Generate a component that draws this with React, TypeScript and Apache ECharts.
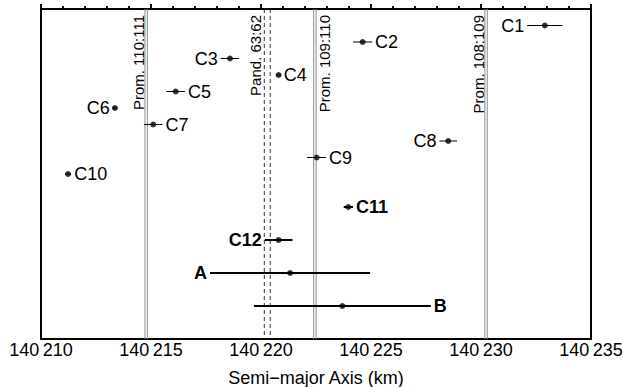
import React, { useEffect, useRef } from "react";
import * as echarts from "echarts";

const names = ["C1", "C2", "C3", "C4", "C5", "C6", "C7", "C8", "C9", "C10", "C11", "C12", "A", "B"];
const rows = [1, 2, 3, 4, 5, 6, 7, 8, 9, 10, 12, 14, 16, 18];
const semiMajor = [
  140232.9, 140224.62, 140218.59, 140220.8, 140216.12, 140213.36, 140215.1,
  140228.51, 140222.53, 140211.23, 140223.97, 140220.8, 140221.32, 140223.7,
];
const errors = [0.8, 0.43, 0.42, 0.1, 0.42, 0.1, 0.42, 0.4, 0.43, 0.14, 0.21, 0.63, 3.64, 4.02];
const labelSides = ["left", "right", "left", "right", "right", "left", "right", "left", "right", "right", "right", "left", "left", "right"];
const boldNames = ["C11", "C12", "A", "B"];
const thickBars = ["C11", "C12", "A", "B"];

const promNames = ["Prom. 110:111", "Prom. 109:110", "Prom. 108:109"];
const promValues = [140214.78, 140222.45, 140230.23];
const promLabelSides = ["left", "right", "left"];
const pandName = "Pand. 63:62";
const pandValues = [140220.15, 140220.42];

const xMin = 140210;
const xMax = 140235;
const xInterval = 5;
const yMin = 0;
const yMax = 20;

const FONT = "'Liberation Sans', Arial, Helvetica, sans-serif";

function fmtTick(v: number) {
  const s = String(Math.round(v));
  return s.slice(0, 3) + "\u2009" + s.slice(3);
}

export default function App() {
  const ref = useRef<HTMLDivElement>(null);
  useEffect(() => {
    if (!ref.current) return;
    const chart = echarts.init(ref.current, null, { renderer: "svg" });

    const errData = names.map((n, i) => [semiMajor[i] - errors[i], semiMajor[i] + errors[i], rows[i], i]);
    const pointData = names.map((n, i) => [semiMajor[i], rows[i]]);

    const option: any = {
      animation: false,
      backgroundColor: "#fff",
      grid: {
        left: 41,
        top: 9,
        width: 550,
        height: 330,
        show: true,
        borderColor: "#000",
        borderWidth: 2,
        backgroundColor: "transparent",
        containLabel: false,
        outerBoundsMode: "none",
      },
      xAxis: [
        {
          type: "value",
          min: xMin,
          max: xMax,
          interval: xInterval,
          position: "bottom",
          axisLine: { show: true, lineStyle: { color: "#000", width: 2 } },
          axisTick: { show: true, inside: true, length: 5, lineStyle: { color: "#000", width: 1.5 } },
          minorTick: { show: true, splitNumber: 5, length: 3, lineStyle: { color: "#000", width: 1.5 } },
          splitLine: { show: false },
          axisLabel: {
            show: true,
            margin: 2,
            color: "#000",
            fontSize: 18,
            fontFamily: FONT,
            formatter: fmtTick,
          },
          name: "Semi\u2212major Axis (km)",
          nameLocation: "middle",
          nameGap: 30,
          nameTextStyle: { color: "#000", fontSize: 18, fontFamily: FONT },
        },
        {
          type: "value",
          min: xMin,
          max: xMax,
          interval: xInterval,
          position: "top",
          axisLine: { show: true, lineStyle: { color: "#000", width: 2 } },
          axisTick: { show: true, inside: false, length: 5, lineStyle: { color: "#000", width: 1.5 } },
          minorTick: { show: true, splitNumber: 5, length: 3, lineStyle: { color: "#000", width: 1.5 } },
          splitLine: { show: false },
          axisLabel: { show: false },
        },
      ],
      yAxis: {
        type: "value",
        min: yMin,
        max: yMax,
        inverse: true,
        show: false,
        splitLine: { show: false },
      },
      series: [
        {
          type: "custom",
          name: "prom",
          silent: true,
          z: 1,
          data: promValues.map((v, i) => [v, 0, i]),
          encode: { x: 0, y: 1 },
          renderItem: (params: any, api: any) => {
            const i = api.value(2);
            const x = api.coord([api.value(0), 0])[0];
            const cs = params.coordSys;
            const top = cs.y;
            const bottom = cs.y + cs.height;
            const side = promLabelSides[i];
            const lx = side === "left" ? x - 8 : x + 10;
            const style = { stroke: "#8c8c8c", lineWidth: 1 };
            return {
              type: "group",
              children: [
                { type: "line", shape: { x1: x - 1.2, y1: top, x2: x - 1.2, y2: bottom }, style },
                { type: "line", shape: { x1: x + 1.2, y1: top, x2: x + 1.2, y2: bottom }, style },
                {
                  type: "text",
                  x: lx,
                  y: top + 6,
                  rotation: Math.PI / 2,
                  style: {
                    text: promNames[i],
                    fontSize: 15,
                    fontFamily: FONT,
                    fill: "#000",
                    align: "right",
                    verticalAlign: "middle",
                  },
                },
              ],
            };
          },
        },
        {
          type: "custom",
          name: "pand",
          silent: true,
          z: 1,
          data: pandValues.map((v, i) => [v, 0, i]),
          encode: { x: 0, y: 1 },
          renderItem: (params: any, api: any) => {
            const i = api.value(2);
            const x = api.coord([api.value(0), 0])[0];
            const cs = params.coordSys;
            const top = cs.y;
            const bottom = cs.y + cs.height;
            const children: any[] = [
              {
                type: "line",
                shape: { x1: x, y1: top, x2: x, y2: bottom },
                style: { stroke: "#000", lineWidth: 0.8, lineDash: [4, 3] },
              },
            ];
            if (i === 0) {
              children.push({
                type: "text",
                x: x - 9,
                y: top + 6,
                rotation: Math.PI / 2,
                style: {
                  text: pandName,
                  fontSize: 15,
                  fontFamily: FONT,
                  fill: "#000",
                  align: "right",
                  verticalAlign: "middle",
                },
              });
            }
            return { type: "group", children };
          },
        },
        {
          type: "custom",
          name: "errors",
          silent: true,
          z: 3,
          data: errData,
          encode: { x: [0, 1], y: 2 },
          renderItem: (params: any, api: any) => {
            const i = api.value(3);
            const row = api.value(2);
            const p1 = api.coord([api.value(0), row]);
            const p2 = api.coord([api.value(1), row]);
            const name = names[i];
            const bold = boldNames.indexOf(name) >= 0;
            const thick = thickBars.indexOf(name) >= 0;
            const side = labelSides[i];
            const gap = 3;
            return {
              type: "group",
              children: [
                {
                  type: "line",
                  shape: { x1: p1[0], y1: p1[1], x2: p2[0], y2: p2[1] },
                  style: { stroke: "#000", lineWidth: thick ? 2 : 1 },
                },
                {
                  type: "text",
                  x: side === "left" ? p1[0] - gap : p2[0] + gap,
                  y: p1[1],
                  style: {
                    text: name,
                    fontSize: 18,
                    fontWeight: bold ? "bold" : "normal",
                    fontFamily: FONT,
                    fill: "#000",
                    align: side === "left" ? "right" : "left",
                    verticalAlign: "middle",
                  },
                },
              ],
            };
          },
        },
        {
          type: "scatter",
          name: "points",
          z: 4,
          symbol: "circle",
          symbolSize: 6,
          itemStyle: { color: "#000" },
          data: pointData,
        },
      ],
    };
    chart.setOption(option);
    return () => chart.dispose();
  }, []);
  return (
    <div
      ref={ref}
      style={{ position: "fixed", left: 0, top: 0, width: 623, height: 387, background: "#fff" }}
    />
  );
}
